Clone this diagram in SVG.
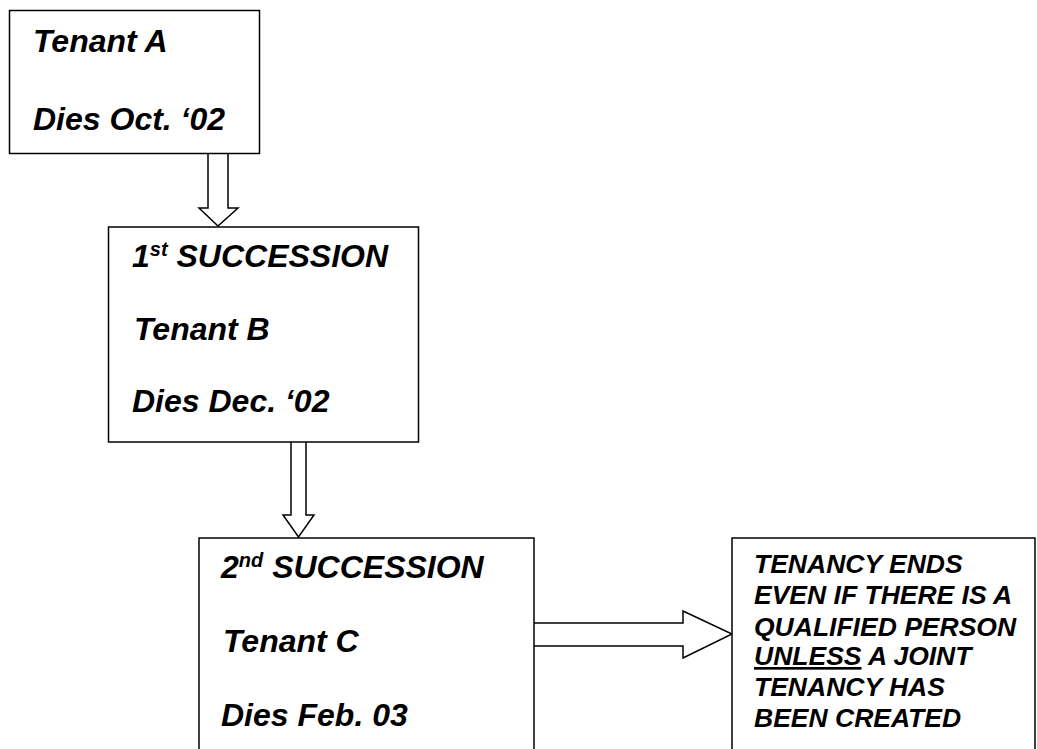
<svg xmlns="http://www.w3.org/2000/svg" width="1037" height="749" viewBox="0 0 1037 749">
<style>
.box{fill:#fff;stroke:#000;stroke-width:1.5}
.arr{fill:#fff;stroke:#000;stroke-width:1.5;stroke-linejoin:miter}
.t{font-family:"Liberation Sans",Arial,sans-serif;font-weight:bold;font-style:italic;font-size:32px;fill:#000}
.s{font-family:"Liberation Sans",Arial,sans-serif;font-weight:bold;font-style:italic;font-size:26.5px;fill:#000}
.sup{font-size:20px}
</style>
<rect width="1037" height="749" fill="#fff"/>
<g id="connectors">
<path class="arr" d="M208,154 V208 H199 L218,226 L238,208 H228 V154"/>
<path class="arr" d="M291,442 V515 H283 L298.5,537 L314,515 H306 V442"/>
<path class="arr" d="M534,623 H683 V611 L732,634 L683,658 V646 H534"/>
</g>
<g id="tenantA">
<rect class="box" x="9.5" y="10.5" width="250" height="143"/>
<text class="t" x="33" y="52">Tenant A</text>
<text class="t" x="33" y="130">Dies Oct. ‘02</text>
</g>
<g id="succession1">
<rect class="box" x="108.5" y="227" width="310" height="215"/>
<text class="t" x="132" y="267">1<tspan class="sup" dy="-11">st</tspan><tspan dy="11"> SUCCESSION</tspan></text>
<text class="t" x="134" y="340">Tenant B</text>
<text class="t" x="132" y="412">Dies Dec. ‘02</text>
</g>
<g id="succession2">
<rect class="box" x="199" y="538" width="335" height="230"/>
<text class="t" x="221" y="578">2<tspan class="sup" dy="-11">nd</tspan><tspan dy="11"> SUCCESSION</tspan></text>
<text class="t" x="223" y="652">Tenant C</text>
<text class="t" x="221" y="726">Dies Feb. 03</text>
</g>
<g id="tenancyEnds">
<rect class="box" x="732" y="538" width="303" height="230"/>
<text class="s" x="754" y="573">TENANCY ENDS</text>
<text class="s" x="754" y="604">EVEN IF THERE IS A</text>
<text class="s" x="754" y="636">QUALIFIED PERSON</text>
<text class="s" x="754" y="665"><tspan text-decoration="underline">UNLESS</tspan> A JOINT</text>
<text class="s" x="754" y="696">TENANCY HAS</text>
<text class="s" x="754" y="727">BEEN CREATED</text>
</g>
</svg>
